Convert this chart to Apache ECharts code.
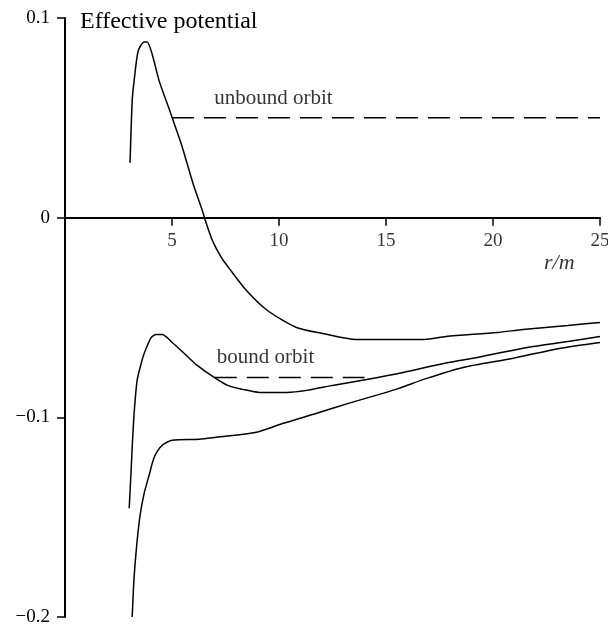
<!DOCTYPE html>
<html>
<head>
<meta charset="utf-8">
<script src="https://cdn.jsdelivr.net/npm/echarts@6/dist/echarts.min.js"></script>
<style>
  html, body { margin: 0; padding: 0; background: #fff; }
  #main { width: 608px; height: 628px; }
</style>
</head>
<body>
<div id="main"></div>
<script>
// upper curve (unbound orbit)
var rHigh = [3.04, 3.14, 3.23, 3.42, 3.7, 3.84, 4.07, 4.4, 4.78, 5.01, 5.43, 5.71, 6.0, 6.42, 6.56, 6.89, 7.31, 7.68, 8.48, 9.46, 10.82, 12.04, 13.6, 15.6, 16.8, 17.8, 20.2, 21.4, 23.5, 25];
var vHigh = [0.0275, 0.0585, 0.0685, 0.0835, 0.088, 0.088, 0.082, 0.0685, 0.057, 0.05, 0.037, 0.027, 0.0165, 0.0035, -0.0015, -0.0115, -0.02, -0.0255, -0.0365, -0.0465, -0.055, -0.058, -0.061, -0.061, -0.061, -0.0595, -0.0575, -0.056, -0.054, -0.0525];
// middle curve (bound orbit)
var rMid = [3.0, 3.09, 3.14, 3.23, 3.37, 3.56, 3.7, 4.03, 4.26, 4.54, 5.01, 5.67, 6.18, 6.9, 7.6, 8.3, 9.09, 10.35, 11.3, 12.5, 14.1, 15.8, 17.7, 19.5, 21.6, 23.5, 25];
var vMid = [-0.1455, -0.1265, -0.115, -0.098, -0.0815, -0.073, -0.068, -0.06, -0.0585, -0.0585, -0.0625, -0.069, -0.074, -0.0795, -0.084, -0.086, -0.0875, -0.0875, -0.0865, -0.084, -0.081, -0.0775, -0.073, -0.0695, -0.065, -0.062, -0.0595];
// lower curve
var rLow = [3.14, 3.23, 3.37, 3.51, 3.7, 3.93, 4.17, 4.54, 5.01, 6.28, 7.07, 8.95, 10.2, 11.76, 13.4, 14.85, 15.6, 16.9, 18.6, 20.9, 23.1, 25];
var vLow = [-0.2, -0.18, -0.162, -0.149, -0.138, -0.129, -0.12, -0.114, -0.1115, -0.111, -0.11, -0.1075, -0.103, -0.098, -0.0925, -0.088, -0.0855, -0.0805, -0.075, -0.0705, -0.0655, -0.0625];

// energy levels
var unboundLevel = 0.05, unboundR = [5, 25];
var boundLevel = -0.08, boundR = [7, 14];

var xTicks = [0, 25, 5];
var xTickLabels = [5, 10, 15, 20, 25];
var yTicks = [-0.2, 0.1, 0.1];

var titleText = 'Effective potential';
var notes = [
    { text: 'unbound orbit', at: [9.74, 0.0595], italic: false },
    { text: 'bound orbit', at: [9.37, -0.07], italic: false },
    { text: 'r/m', at: [23.1, -0.023], italic: true }
];

var FONT = 'Liberation Serif';

function pairs(xs, ys) {
    var out = [];
    for (var i = 0; i < xs.length; i++) out.push([xs[i], ys[i]]);
    return out;
}

function curve(xs, ys) {
    return {
        type: 'line',
        data: pairs(xs, ys),
        showSymbol: false,
        smooth: 0.25,
        lineStyle: { color: '#000', width: 1.5 },
        silent: true
    };
}

function level(v, rs) {
    return {
        type: 'line',
        data: [[rs[0], v], [rs[1], v]],
        showSymbol: false,
        lineStyle: { color: '#000', width: 1.5, type: [22, 10] },
        silent: true
    };
}

var myChart = echarts.init(document.getElementById('main'));
var option = {
    animation: false,
    backgroundColor: '#fff',
    title: {
        text: titleText,
        left: 80,
        top: 10,
        padding: 0,
        textStyle: { fontFamily: FONT, fontWeight: 'normal', fontSize: 24, color: '#000' }
    },
    grid: { left: 65, right: 8, top: 18, bottom: 11, containLabel: false, outerBoundsMode: 'none' },
    xAxis: {
        type: 'value',
        min: xTicks[0],
        max: xTicks[1],
        interval: xTicks[2],
        axisLine: { onZero: true, lineStyle: { color: '#000', width: 2 } },
        axisTick: { length: 8, lineStyle: { color: '#000', width: 1.5 } },
        axisLabel: { show: false },
        splitLine: { show: false }
    },
    yAxis: {
        type: 'value',
        min: yTicks[0],
        max: yTicks[1],
        interval: yTicks[2],
        axisLine: { show: true, lineStyle: { color: '#000', width: 2 } },
        axisTick: { show: true, length: 8, lineStyle: { color: '#000', width: 1.5 } },
        axisLabel: {
            margin: 15,
            color: '#000',
            fontFamily: FONT,
            fontSize: 19,
            formatter: function (v) {
                if (Math.abs(v) < 1e-9) return '0';
                return v.toFixed(1).replace('-', '\u2212');
            }
        },
        splitLine: { show: false }
    },
    series: [
        curve(rHigh, vHigh),
        curve(rMid, vMid),
        curve(rLow, vLow),
        level(unboundLevel, unboundR),
        level(boundLevel, boundR),
        {
            // tick labels of the r axis, hanging under the zero line
            type: 'scatter',
            symbolSize: 0,
            silent: true,
            data: xTickLabels.map(function (t) { return [t, 0]; }),
            label: {
                show: true,
                position: [0, 14],
                align: 'center',
                verticalAlign: 'top',
                formatter: function (p) { return String(p.value[0]); },
                fontFamily: FONT,
                fontSize: 19,
                color: '#000'
            }
        },
        {
            type: 'scatter',
            symbolSize: 0,
            silent: true,
            data: notes.map(function (n) {
                return {
                    value: n.at,
                    label: {
                        show: true,
                        position: [0, 0],
                        align: 'center',
                        verticalAlign: 'middle',
                        formatter: n.text,
                        fontFamily: FONT,
                        fontSize: n.italic ? 22 : 21,
                        fontStyle: n.italic ? 'italic' : 'normal',
                        color: '#000'
                    }
                };
            })
        }
    ]
};
if (option && typeof option === "object") {
    myChart.setOption(option, true);
}
</script>
</body>
</html>
